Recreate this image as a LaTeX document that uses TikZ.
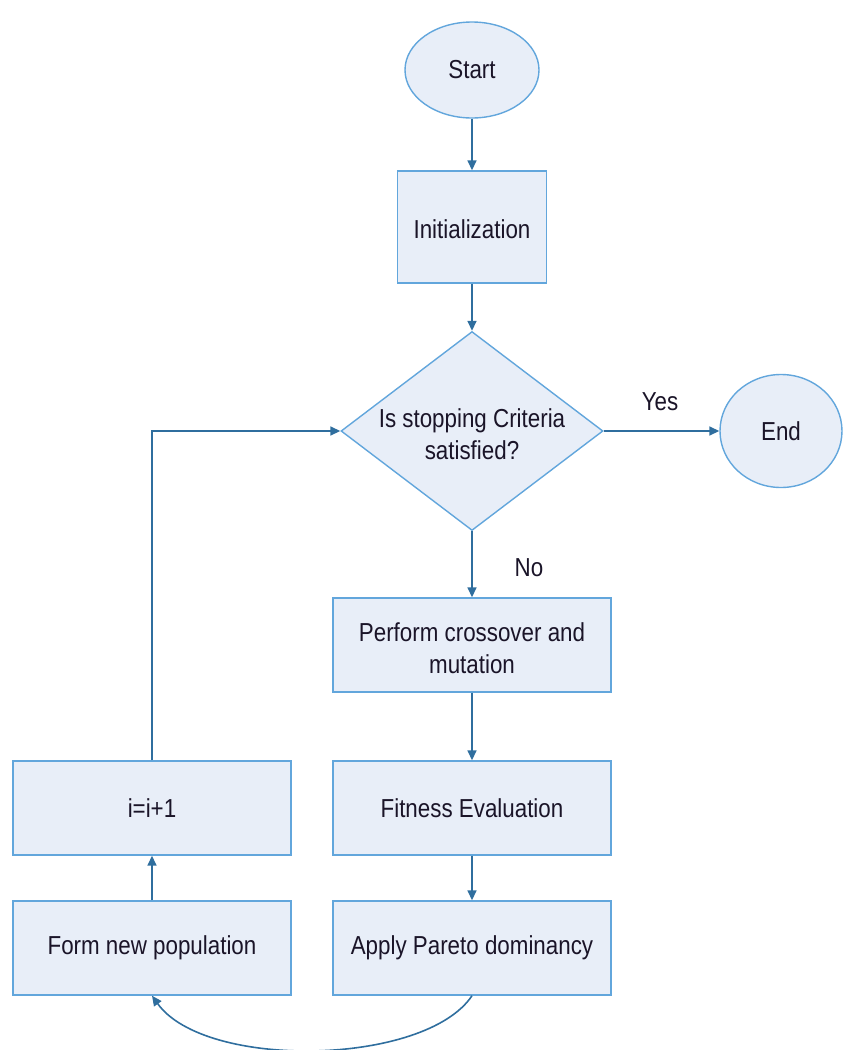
\documentclass[tikz,border=0pt]{standalone}
\usepackage{fontspec}
\setmainfont{Liberation Sans}[FakeStretch=0.86]
\usetikzlibrary{shapes.geometric,arrows.meta}
\definecolor{boxfill}{HTML}{E8EEF8}
\definecolor{boxline}{HTML}{62A6DC}
\definecolor{arrowc}{HTML}{2F6E9E}
\definecolor{txt}{HTML}{1A1428}
\newcommand{\lowtext}[2]{\raisebox{#1}[0pt][0pt]{\makebox[0pt]{\begin{tabular}[b]{@{}c@{}}#2\end{tabular}}}}
\tikzset{
  x=1pt, y=-1pt,
  base/.style={draw=boxline, fill=boxfill, line width=1.4pt, text=txt, font=\fontsize{26}{32}\selectfont, align=center, inner sep=0pt},
  procbox/.style={base, rectangle, minimum width=278pt, minimum height=94pt},
  term/.style={base, ellipse},
  decision/.style={base, diamond, minimum width=262pt, minimum height=199pt},
  conn/.style={draw=arrowc, line width=1.6pt, -{Triangle[length=10pt,width=9pt]}},
  lbl/.style={text=txt, font=\fontsize{26}{32}\selectfont, inner sep=0pt}
}
\begin{document}
\begin{tikzpicture}
\useasboundingbox (0,0) rectangle (843,1050);
\node[term, minimum width=134pt, minimum height=96pt] (start) at (472,70) {Start};
\node[procbox, minimum width=149pt, minimum height=112pt] (init) at (472,227) {\lowtext{-11pt}{Initialization}};
\node[decision] (dec) at (472,431) {\lowtext{-28pt}{Is stopping Criteria\\satisfied?}};
\node[term, minimum width=122pt, minimum height=113pt] (end) at (781,431) {End};
\node[procbox] (cross) at (472,645) {\lowtext{-28pt}{Perform crossover and\\mutation}};
\node[procbox] (fit) at (472,808) {Fitness Evaluation};
\node[procbox] (pareto) at (472,948) {Apply Pareto dominancy};
\node[procbox] (form) at (152,948) {Form new population};
\node[procbox] (inc) at (152,808) {i=i+1};
\coordinate (corner) at (152,431);
\node[lbl] (yes) at (660,402) {Yes};
\node[lbl] (no) at (529,568) {No};
\draw[conn] (start.south) -- (init.north);
\draw[conn] (init.south) -- (dec.north);
\draw[conn] (dec.east) -- (end.west);
\draw[conn] (dec.south) -- (cross.north);
\draw[conn] (cross.south) -- (fit.north);
\draw[conn] (fit.south) -- (pareto.north);
\draw[conn] (form.north) -- (inc.south);
\draw[conn] (inc.north) -- (corner) -- (dec.west);
\draw[conn] (pareto.south) .. controls (425,1066) and (205,1070) .. (form.south);
\end{tikzpicture}
\end{document}
